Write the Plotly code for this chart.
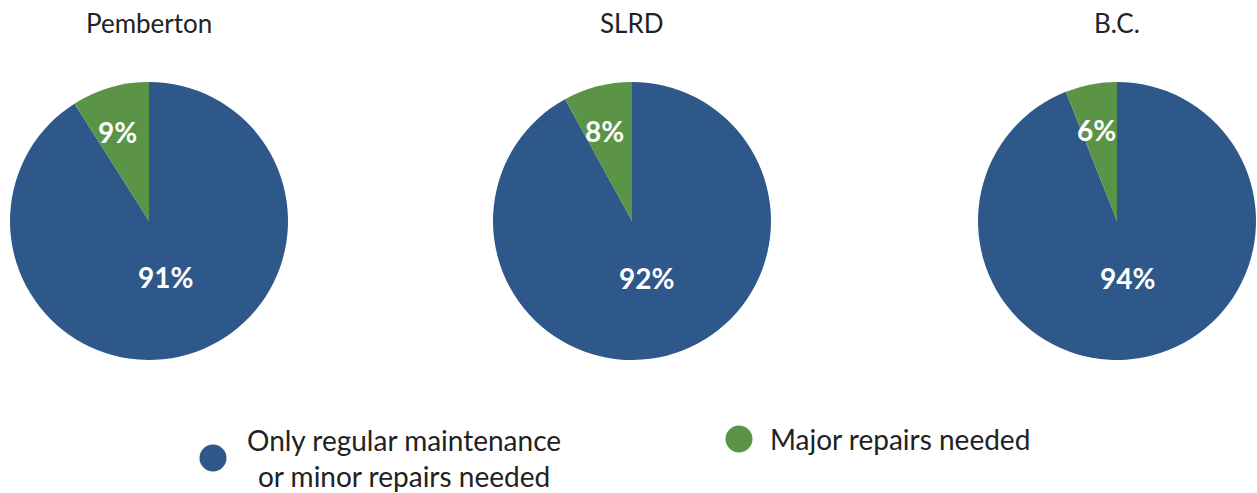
import math
import plotly.graph_objects as go

regions = ["Pemberton", "SLRD", "B.C."]
categories = ["Only regular maintenance or minor repairs needed", "Major repairs needed"]
regular = [91, 92, 94]
major = [9, 8, 6]
colors = ["#2E5889", "#5B9447"]

W, H = 1257, 493


def px(x):
    return min(max(x / W, 0), 1)


def py(y):
    return min(max(1 - y / H, 0), 1)


centers_px = [149, 632, 1117]
radius_px = 139
cy_px = 221
label_r = [0.42, 0.67]  # radial fraction for label placement per slice

FONT = "Lato"
TXT = "#222222"

fig = go.Figure()
for i, r in enumerate(regions):
    cx = centers_px[i]
    vals = [regular[i], major[i]]
    fig.add_trace(go.Pie(
        labels=categories,
        values=vals,
        sort=False,
        direction="clockwise",
        rotation=0,
        marker=dict(colors=colors, line=dict(width=0)),
        textinfo="none",
        domain=dict(x=[px(cx - radius_px), px(cx + radius_px)],
                    y=[py(cy_px + radius_px), py(cy_px - radius_px)]),
        showlegend=False,
        hoverinfo="label+percent",
    ))
    total = sum(vals)
    start = 0.0
    for j, v in enumerate(vals):
        mid = (start + v / 2) / total * 2 * math.pi
        start += v
        rr = label_r[j] * radius_px
        lx = cx + rr * math.sin(mid) * (1.2 if j == 1 else 1.0)
        ly = cy_px - rr * math.cos(mid)
        fig.add_annotation(text=f"{v}%", x=px(lx), y=py(ly), xref="paper", yref="paper",
                           xanchor="center", yanchor="middle", showarrow=False,
                           font=dict(family=FONT, size=28, color="white", weight="bold"))
    fig.add_annotation(text=r, x=px(cx), y=py(23), xref="paper", yref="paper",
                       xanchor="center", yanchor="middle", showarrow=False,
                       font=dict(family=FONT, size=26, color=TXT))

rad = 13.5
fig.add_shape(type="circle", xref="paper", yref="paper",
              x0=px(213 - rad), x1=px(213 + rad), y0=py(458 + rad), y1=py(458 - rad),
              fillcolor=colors[0], line=dict(width=0))
fig.add_annotation(text="Only regular maintenance<br>or minor repairs needed",
                   x=px(404), y=py(458), xref="paper", yref="paper", showarrow=False,
                   xanchor="center", yanchor="middle", align="center",
                   font=dict(family=FONT, size=28, color=TXT))
fig.add_shape(type="circle", xref="paper", yref="paper",
              x0=px(739 - rad), x1=px(739 + rad), y0=py(439 + rad), y1=py(439 - rad),
              fillcolor=colors[1], line=dict(width=0))
fig.add_annotation(text="Major repairs needed",
                   x=px(768), y=py(439), xref="paper", yref="paper", showarrow=False,
                   xanchor="left", yanchor="middle",
                   font=dict(family=FONT, size=28, color=TXT))

fig.update_layout(width=W, height=H, margin=dict(l=0, r=0, t=0, b=0),
                  paper_bgcolor="white", plot_bgcolor="white")
fig.write_html("out.html", config={"displayModeBar": False},
               post_script="document.body.style.margin='0';document.body.style.overflow='hidden';")
